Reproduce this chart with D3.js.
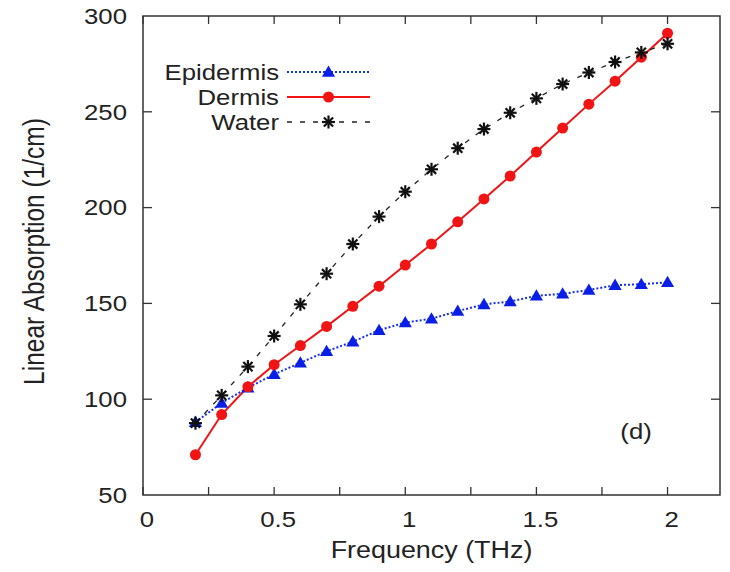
<!DOCTYPE html>
<html>
<head>
<meta charset="utf-8">
<script src="https://cdn.jsdelivr.net/npm/d3@7"></script>
<style>
  body { margin: 0; background: #fff; }
  text { font-family: "Liberation Sans", Arial, sans-serif; fill: #222; }
</style>
</head>
<body>
<div id="chart"></div>
<script>
//-- Data
var freq = [0.2, 0.3, 0.4, 0.5, 0.6, 0.7, 0.8, 0.9, 1.0, 1.1, 1.2, 1.3, 1.4, 1.5, 1.6, 1.7, 1.8, 1.9, 2.0];
var epidermis = [88, 98, 106, 113, 119, 125, 130, 136, 140, 142, 146, 149.5, 151, 154, 155, 157, 159.5, 160, 161];
var dermis = [71, 92, 106.5, 118, 128, 138, 148.5, 159, 170, 181, 192.6, 204.5, 216.5, 229, 241.5, 254, 266, 278.5, 291];
var water = [87.5, 102, 117, 133, 149.5, 165.5, 181, 195.3, 208.3, 220, 231, 241, 249.5, 257, 264.5, 270.5, 276, 281, 285.5];
var series_names = ['Epidermis', 'Dermis', 'Water'];
var x_ticks = [0, 0.5, 1, 1.5, 2];
var x_minor = [0, 0.25, 0.5, 0.75, 1, 1.25, 1.5, 1.75, 2];
var y_ticks = [50, 100, 150, 200, 250, 300];

var tot_width = 730;
var tot_height = 572;
var margin = {left: 143, right: 10, top: 16, bottom: 77};
var width = tot_width - margin.left - margin.right;
var height = tot_height - margin.top - margin.bottom;
var sx = 1.17; //-- the picture's text is wider than it is tall

var svg = d3.select("#chart")
  .append("svg")
    .attr("width", tot_width)
    .attr("height", tot_height)
  .append("g")
    .attr("transform", "translate(" + margin.left + "," + margin.top + ")");

var x = d3.scaleLinear().domain([0, 2.2]).range([0, width]);
var y = d3.scaleLinear().domain([50, 300]).range([height, 0]);

//-- Ticks on all four sides, pointing in
function Draw_Ticks(g, orient, pos, values, len) {
  g.selectAll()
    .data(values)
    .enter()
    .append("line")
      .attr("x1", function (d) {return orient == 'x' ? x(d) : pos;})
      .attr("x2", function (d) {return orient == 'x' ? x(d) : pos + len;})
      .attr("y1", function (d) {return orient == 'x' ? pos : y(d);})
      .attr("y2", function (d) {return orient == 'x' ? pos + len : y(d);})
      .attr("stroke", "#333")
      .attr("stroke-width", 1.3);
}

var ticks = svg.append("g").attr("class", "ticks");
Draw_Ticks(ticks, 'x', height, x_minor, -8);
Draw_Ticks(ticks, 'x', 0, x_minor, 8);
Draw_Ticks(ticks, 'y', 0, y_ticks.slice(1, -1), 9);
Draw_Ticks(ticks, 'y', width, y_ticks.slice(1, -1), -9);

svg.append("rect")
  .attr("width", width)
  .attr("height", height)
  .attr("fill", "none")
  .attr("stroke", "#333")
  .attr("stroke-width", 1.5);

//-- Tick labels
svg.selectAll(".xlabel")
  .data(x_ticks)
  .enter()
  .append("text")
    .attr("class", "xlabel")
    .attr("transform", function (d) {return "translate(" + (x(d) + 4) + "," + (height + 32) + ") scale(" + sx + ",1)";})
    .attr("text-anchor", "middle")
    .style("font-size", "22px")
    .text(function (d) {return d;});

svg.selectAll(".ylabel")
  .data(y_ticks)
  .enter()
  .append("text")
    .attr("class", "ylabel")
    .attr("transform", function (d) {return "translate(-16," + y(d) + ") scale(" + sx + ",1)";})
    .attr("text-anchor", "end")
    .attr("dominant-baseline", "central")
    .style("font-size", "22px")
    .text(function (d) {return d;});

//-- Axis titles
svg.append("text")
  .attr("transform", "translate(" + (width / 2) + "," + (height + 63) + ") scale(" + sx + ",1)")
  .attr("text-anchor", "middle")
  .style("font-size", "23px")
  .text("Frequency (THz)");

svg.append("text")
  .attr("transform", "translate(" + (44 - margin.left) + "," + (height / 2 - 4) + ") scale(" + sx + ",1) rotate(-90)")
  .attr("text-anchor", "middle")
  .style("font-size", "24.5px")
  .text("Linear Absorption (1/cm)");

svg.append("text")
  .attr("transform", "translate(" + x(1.82) + "," + y(79) + ") scale(" + sx + ",1)")
  .style("font-size", "22px")
  .text("(d)");

//-- Markers
var tri = d3.symbol().type(d3.symbolTriangle).size(75);

function Draw_Marker(g, kind, cx, cy) {
  if (kind == 0) {
    g.append("path")
      .attr("d", tri)
      .attr("transform", "translate(" + cx + "," + (cy + 1) + ")")
      .attr("fill", "#0a1fe6");
  }
  else if (kind == 1) {
    g.append("circle")
      .attr("cx", cx)
      .attr("cy", cy)
      .attr("r", 5.5)
      .attr("fill", "#f01414");
  }
  else {
    var r = 6.5;
    [0, 45, 90, 135].forEach(function (a) {
      var dx = r * Math.cos(a * Math.PI / 180), dy = r * Math.sin(a * Math.PI / 180);
      g.append("line")
        .attr("x1", cx - dx).attr("y1", cy - dy)
        .attr("x2", cx + dx).attr("y2", cy + dy)
        .attr("stroke", "#111")
        .attr("stroke-width", 2.2);
    });
  }
}

var styles = [
  {color: "#1530f0", width: 2, dash: "2,2"},
  {color: "#f01414", width: 2, dash: null},
  {color: "#222", width: 1.3, dash: "5,8"}
];
var all_values = [epidermis, dermis, water];

var line = d3.line()
  .x(function (d, i) {return x(freq[i]);})
  .y(function (d) {return y(d);});

all_values.forEach(function (vals, k) {
  svg.append("path")
    .datum(vals)
    .attr("d", line)
    .attr("fill", "none")
    .attr("stroke", styles[k].color)
    .attr("stroke-width", styles[k].width)
    .attr("stroke-dasharray", styles[k].dash);
});

all_values.forEach(function (vals, k) {
  var g = svg.append("g");
  vals.forEach(function (v, i) {Draw_Marker(g, k, x(freq[i]), y(v));});
});

//-- Legend
var legend = {x: 279 - margin.left, y: 72 - margin.top, dy: 25, x1: 287 - margin.left, x2: 370 - margin.left};

series_names.forEach(function (name, k) {
  var ly = legend.y + k * legend.dy;
  svg.append("text")
    .attr("transform", "translate(" + legend.x + "," + ly + ") scale(" + sx + ",1)")
    .attr("text-anchor", "end")
    .attr("dominant-baseline", "central")
    .style("font-size", "22px")
    .text(name);
  svg.append("line")
    .attr("x1", legend.x1).attr("x2", legend.x2)
    .attr("y1", ly).attr("y2", ly)
    .attr("stroke", styles[k].color)
    .attr("stroke-width", styles[k].width)
    .attr("stroke-dasharray", styles[k].dash);
  Draw_Marker(svg, k, (legend.x1 + legend.x2) / 2, ly);
});
</script>
</body>
</html>
